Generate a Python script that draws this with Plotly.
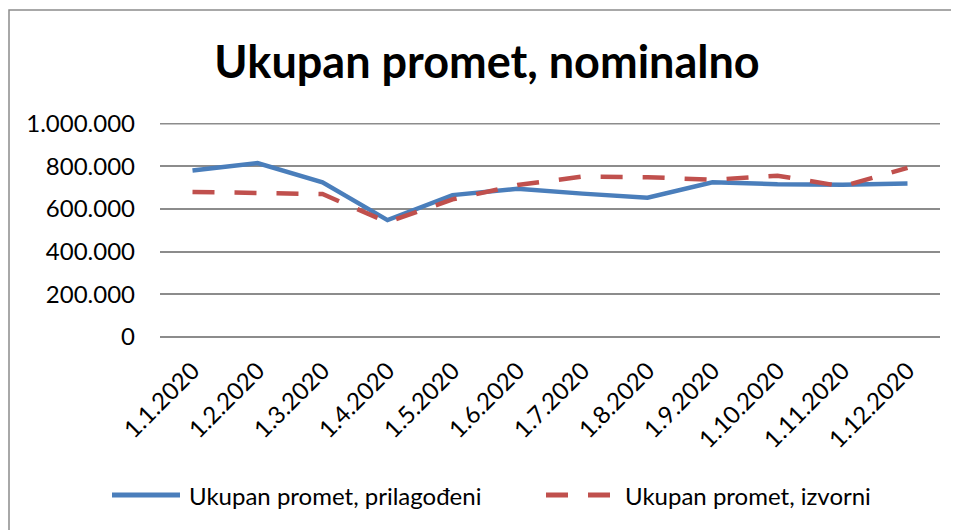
import plotly.graph_objects as go

categories = ["1.1.2020", "1.2.2020", "1.3.2020", "1.4.2020", "1.5.2020", "1.6.2020",
              "1.7.2020", "1.8.2020", "1.9.2020", "1.10.2020", "1.11.2020", "1.12.2020"]
prilagodeni = [780000, 815000, 725000, 548000, 665000, 695000,
               672000, 653000, 725000, 716000, 714000, 720000]
izvorni = [680000, 673000, 670000, 538000, 645000, 712000,
           752000, 749000, 737000, 756000, 706000, 793000]
y_ticks = [0, 200000, 400000, 600000, 800000, 1000000]
series_names = ["Ukupan promet, prilagođeni", "Ukupan promet, izvorni"]

FONT = "Lato"
BLUE = "#4A7EBB"
RED = "#C0504D"
GRID = "#8C8C8C"
DASH = "22px,20px"

# figure geometry (page is offset by the 8px body margin)
W, H = 951, 522
L, R, T, B = 152, 19, 115, 193
PW = W - L - R
PH = H - T - B


def px(fx):
    return (fx - L) / PW


def py(fy):
    return (H - B - fy) / PH


fig = go.Figure()
fig.add_trace(go.Scatter(x=categories, y=prilagodeni, mode="lines",
                         name=series_names[0], showlegend=False,
                         line=dict(color=BLUE, width=4.5)))
fig.add_trace(go.Scatter(x=categories, y=izvorni, mode="lines",
                         name=series_names[1], showlegend=False,
                         line=dict(color=RED, width=4.5, dash=DASH)))

fig.update_layout(
    width=W, height=H,
    margin=dict(l=L, r=R, t=T, b=B),
    paper_bgcolor="white", plot_bgcolor="white",
    separators=",.",
    font=dict(family=FONT, size=24, color="black"),
    title=dict(text="<b>Ukupan promet, nominalno</b>", x=479 / W, xref="container",
               xanchor="center", y=1 - 54 / H, yanchor="middle",
               font=dict(family=FONT, size=45, color="black")),
    xaxis=dict(type="category", tickangle=-45, showgrid=False, showline=False,
               ticks="", tickfont=dict(size=24), range=[-0.5, 11.5],
               ticklabelstandoff=14),
    yaxis=dict(range=[0, 1003000], tickvals=y_ticks, tickformat=",d",
               showgrid=True, gridcolor=GRID, gridwidth=1.5,
               zeroline=True, zerolinecolor=GRID, zerolinewidth=1.5,
               showline=False, ticks="", tickfont=dict(size=24),
               ticklabelstandoff=24),
    showlegend=False,
)

# top gridline (1.000.000) so it is always visible
fig.add_shape(type="line", xref="paper", yref="y",
              x0=0, x1=1, y0=y_ticks[-1], y1=y_ticks[-1],
              line=dict(color=GRID, width=1.5), layer="below")

# outer chart border
fig.add_shape(type="rect", xref="paper", yref="paper",
              x0=px(1), x1=px(962), y0=py(530), y1=py(2),
              line=dict(color=GRID, width=1.5), layer="below")

# legend (drawn manually to match the long line samples)
leg_y = py(487)
fig.add_shape(type="line", xref="paper", yref="paper",
              x0=px(104), x1=px(172), y0=leg_y, y1=leg_y,
              line=dict(color=BLUE, width=5))
fig.add_shape(type="line", xref="paper", yref="paper",
              x0=px(538), x1=px(602), y0=leg_y, y1=leg_y,
              line=dict(color=RED, width=5, dash=DASH))
fig.add_annotation(xref="paper", yref="paper", x=px(179), y=leg_y,
                   xanchor="left", yanchor="middle", showarrow=False,
                   text=series_names[0], font=dict(family=FONT, size=24, color="black"))
fig.add_annotation(xref="paper", yref="paper", x=px(615), y=leg_y,
                   xanchor="left", yanchor="middle", showarrow=False,
                   text=series_names[1], font=dict(family=FONT, size=24, color="black"))

fig.write_html("out.html")
